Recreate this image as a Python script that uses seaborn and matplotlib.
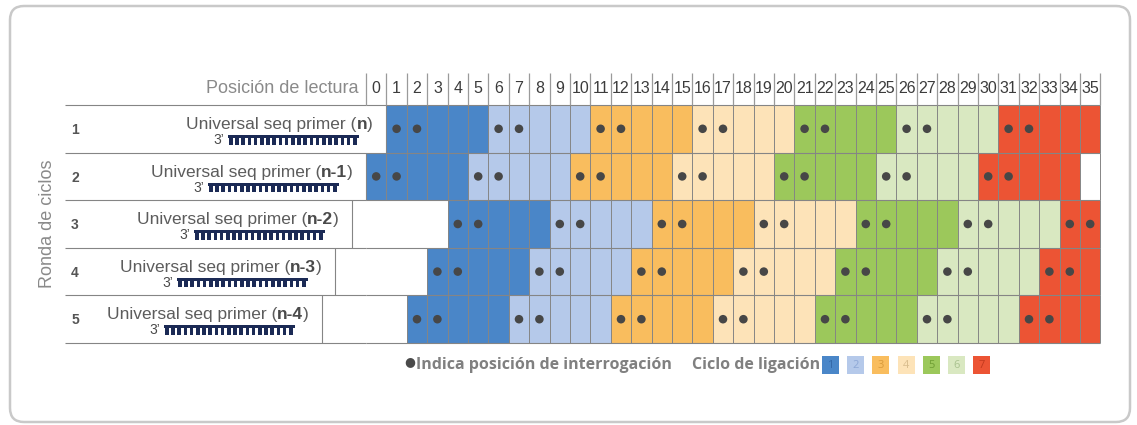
import numpy as np
import pandas as pd
import matplotlib
matplotlib.use("Agg")
import matplotlib.pyplot as plt
import seaborn as sns
from matplotlib.colors import ListedColormap
from matplotlib.patches import FancyBboxPatch, Rectangle

# posiciones de lectura (cabecera) y rondas
posiciones = list(range(36))
rondas = ["1", "2", "3", "4", "5"]
primers = ["n", "n-1", "n-2", "n-3", "n-4"]

# ciclo de ligación en cada posición: '-' sin celda, '0' celda vacía
ciclo_r1 = "-11111222223333344444555556666677777"
ciclo_r2 = "111112222233333444445555566666777770"
ciclo_r3 = "----11111222223333344444555556666677"
ciclo_r4 = "---111112222233333444445555566666777"
ciclo_r5 = "--1111122222333334444455555666667777"

# posiciones de interrogación (puntos)
puntos_r1 = [1, 2, 6, 7, 11, 12, 16, 17, 21, 22, 26, 27, 31, 32]
puntos_r2 = [0, 1, 5, 6, 10, 11, 15, 16, 20, 21, 25, 26, 30, 31]
puntos_r3 = [4, 5, 9, 10, 14, 15, 19, 20, 24, 25, 29, 30, 34, 35]
puntos_r4 = [3, 4, 8, 9, 13, 14, 18, 19, 23, 24, 28, 29, 33, 34]
puntos_r5 = [2, 3, 7, 8, 12, 13, 17, 18, 22, 23, 27, 28, 32, 33]

ciclos = ["1", "2", "3", "4", "5", "6", "7"]
colores_ciclo = ["#4a86c8", "#b5c9ea", "#f9bd5e", "#fde3b8", "#9cc85b", "#d9e8c1", "#ec5434"]
colores_num = ["#3468a8", "#8ea8d6", "#d99b3c", "#d9bd8e", "#6f9e34", "#a9c28f", "#c23a1e"]

filas = [ciclo_r1, ciclo_r2, ciclo_r3, ciclo_r4, ciclo_r5]
mat = pd.DataFrame([[np.nan if c == "-" else int(c) for c in f] for f in filas],
                   index=rondas, columns=posiciones)
pts = pd.DataFrame([(p + 0.5, i + 0.5) for i, fila in
                    enumerate([puntos_r1, puntos_r2, puntos_r3, puntos_r4, puntos_r5])
                    for p in fila], columns=["pos", "ronda"])

sns.set_style("white")
SANS = ["Liberation Sans", "DejaVu Sans"]
plt.rcParams["font.family"] = ["Open Sans", "DejaVu Sans"]

W, H = 1137, 425
X0, CW = 366, 20.4
Y0, RH = 105, 47.6
NAVY = "#1b2a55"
GRIS = "#8a8a8a"
LINEA = "#858585"

fig = plt.figure(figsize=(W / 100, H / 100), dpi=100)

# capa de fondo en píxeles
bg = fig.add_axes([0, 0, 1, 1], zorder=0)
bg.set_xlim(0, W)
bg.set_ylim(H, 0)
bg.set_axis_off()

bg.add_patch(FancyBboxPatch((10, 6), 1120, 416, boxstyle="round,pad=0,rounding_size=14",
                            fc="none", ec="#c9c9c9", lw=1.8))

# líneas horizontales de filas (zona de etiquetas)
bg.hlines([Y0 + RH * i for i in range(6)], 65, X0, colors=LINEA, lw=0.8)

# cajas de etiquetas
bordes = [386, 366, 352, 335, 322]
for i, (r, p, b) in enumerate(zip(rondas, primers, bordes)):
    top = Y0 + RH * i
    bg.vlines(b, top, top + RH, colors=LINEA, lw=0.8)
    bg.text(75, top + 25, r, ha="center", va="center", fontsize=10,
            fontweight="bold", color="#555555", family=SANS)
    t1 = bg.text(b - 13, top + 24, ")", ha="right", va="baseline", fontsize=12.5,
                 color="#5c5c5c", family=SANS)
    t2 = bg.annotate(p, xy=(0, 0), xycoords=t1, ha="right", va="bottom", fontsize=12.5,
                     fontweight="bold", color="#4a4a4a", family=SANS)
    bg.annotate("Universal seq primer (", xy=(0, 0), xycoords=t2, ha="right", va="bottom",
                fontsize=12.5, color="#5c5c5c", family=SANS)
    # cebador 3' con dientes
    x1 = b - 27
    x0 = x1 - 131
    yb = top + 30
    bg.add_patch(Rectangle((x0, yb), 131, 3, color=NAVY, lw=0))
    for tx in np.arange(x0 + 1, x1 - 2, 6.2):
        bg.add_patch(Rectangle((tx, yb + 3), 3.6, 6.5, color=NAVY, lw=0))
    bg.text(x0 - 4, yb + 9, "3’", ha="right", va="baseline", fontsize=10,
            color="#4a4a4a", family=SANS)

bg.text(47, Y0 + RH * 2.5, "Ronda de ciclos", rotation=90, ha="center", va="center",
        fontsize=13, color=GRIS, family=SANS)
bg.text(X0 - 8, 88, "Posición de lectura", ha="right", va="center",
        fontsize=13, color=GRIS, family=SANS)

# leyenda
bg.text(410, 362, "●", ha="center", va="center", fontsize=9, color="#4a4a4a")
bg.text(416, 365, "Indica posición de interrogación", ha="left", va="center",
        fontsize=11.5, fontweight="bold", color="#808080")
bg.text(820, 365, "Ciclo de ligación", ha="right", va="center",
        fontsize=11.5, fontweight="bold", color="#808080")
for i, (c, col, cn) in enumerate(zip(ciclos, colores_ciclo, colores_num)):
    x = 822 + 25.2 * i
    bg.add_patch(Rectangle((x, 356), 17, 18, color=col, lw=0))
    bg.text(x + 8.5, 365.5, c, ha="center", va="center", fontsize=8, color=cn)

# rejilla de celdas
ax = fig.add_axes([X0 / W, 1 - (Y0 + 5 * RH) / H, 36 * CW / W, 5 * RH / H], zorder=1)
ax.patch.set_visible(False)
cmap = ListedColormap(["#ffffff"] + colores_ciclo)
sns.heatmap(mat, ax=ax, cmap=cmap, vmin=-0.5, vmax=7.5, cbar=False,
            linewidths=0, xticklabels=False, yticklabels=False)
# bordes de celdas solo donde hay celda
for i, f in enumerate(filas):
    inicio = f.index(next(c for c in f if c != "-"))
    ax.vlines(range(inicio, 37), i, i + 1, colors=LINEA, lw=0.7, clip_on=False)
ax.hlines(range(6), 0, 36, colors=LINEA, lw=0.8, clip_on=False)
sns.scatterplot(data=pts, x="pos", y="ronda", ax=ax, color="#474747", s=38,
                edgecolor="none", legend=False)
ax.set_xlim(0, 36)
ax.set_ylim(5, 0)
ax.set_xlabel("")
ax.set_ylabel("")
ax.set_xticks([])
ax.set_yticks([])

# cabecera con posiciones
ax.vlines(range(37), -0.67, 0, colors="#9a9a9a", lw=0.9, clip_on=False)
for k in posiciones:
    ax.text(k + 0.5, -0.35, str(k), ha="center", va="center", fontsize=11.5,
            color="#3c3c3c", family=SANS, clip_on=False)

fig.savefig("out.png", dpi=100)
